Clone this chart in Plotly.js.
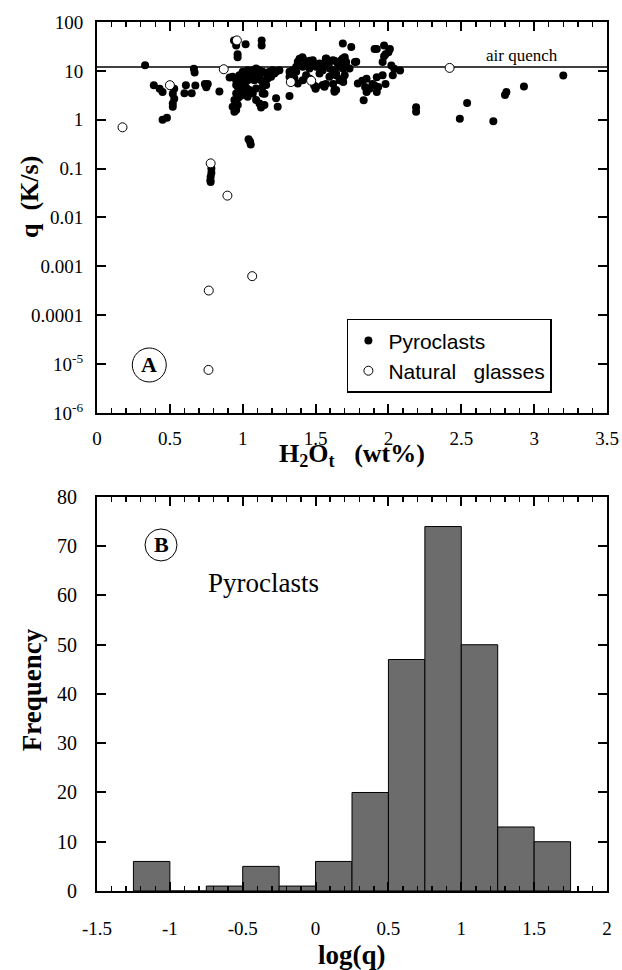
<!DOCTYPE html>
<html><head><meta charset="utf-8">
<script src="https://cdn.plot.ly/plotly-3.0.1.min.js"></script>
<style>html,body{margin:0;padding:0;background:#fff}</style>
</head><body><div id="chart" style="width:622px;height:970px"></div>
<script>
// ---- Panel A data: H2Ot (wt%) vs cooling rate q (K/s) ----
const pyroX = [
 0.33,0.39,0.43,0.45,0.53,0.52,0.53,0.52,0.52,0.45,0.48,0.61,0.60,0.65,0.675,0.665,0.67,0.74,0.76,0.75,0.84,0.91,
 0.94,0.955,0.965,0.965,1.02,1.13,1.13,1.04,1.05,1.055,0.785,0.785,0.78,0.778,0.78,
 0.955,0.977,1.0,1.023,1.046,1.069,1.092,1.115,1.137,1.161,1.183,1.206,1.229,1.252,
 0.966,0.989,1.012,1.034,1.058,1.08,1.103,1.126,1.149,1.172,1.195,
 0.955,0.977,1.0,1.023,1.046,1.092,1.137,1.161,
 0.943,0.966,0.977,1.012,1.034,1.069,1.137,
 0.931,0.955,0.943,0.966,1.092,1.115,1.126,1.149,1.229,1.24,1.321,
 0.989,1.012,1.069,1.115,1.034,1.092,1.183,1.217,0.955,1.0,0.931,1.15,1.01,
 1.321,1.343,1.367,1.378,1.412,1.435,1.458,1.481,1.527,1.573,1.595,1.618,1.652,1.676,1.687,1.699,1.71,1.733,
 1.321,1.355,1.378,1.412,1.435,1.458,1.504,1.549,1.595,1.618,1.641,1.664,1.687,1.641,1.561,1.63,
 1.687,1.745,1.779,1.79,1.412,1.458,1.504,1.549,1.527,1.367,1.573,1.664,
 1.70,1.71,1.69,1.70,1.68,1.69,1.77,1.53,1.57,1.60,1.63,1.64,1.62,1.57,1.63,1.34,1.39,1.41,1.46,1.49,1.50,
 1.92,1.905,1.97,2.01,1.98,1.97,2.0,1.96,2.02,2.04,2.08,2.03,1.96,
 1.82,1.85,1.84,1.87,1.85,1.89,1.92,1.905,1.93,1.92,1.98,1.83,
 2.19,2.19,2.54,2.49,2.72,2.80,2.81,2.93,3.20
];
const pyroQ = [
 13,5.1,4.3,3.7,4.3,3.4,2.7,2.15,1.85,1.0,1.1,5.1,3.5,3.5,5.0,11.0,9.3,5.4,5.4,4.6,3.8,7.3,
 42,33,22,19,35,42,33,0.40,0.36,0.31,0.10,0.082,0.068,0.058,0.053,
 6.46,8.17,9.55,8.85,9.55,10.3,11.2,10.3,9.55,8.85,9.55,10.3,9.55,10.3,
 4.71,5.53,5.97,6.46,7.0,6.46,7.0,6.46,5.97,7.0,7.55,
 3.46,4.04,4.37,4.58,4.04,4.37,4.71,5.11,
 2.52,2.74,2.95,3.19,2.95,3.46,3.46,
 1.84,1.58,1.46,2.0,2.52,2.16,1.79,2.0,2.74,1.84,3.05,
 7.55,8.17,8.17,8.17,10.3,8.85,8.17,8.85,5.11,5.53,7.55,3.4,5.0,
 9.55,10.3,12.1,15.3,17.9,15.3,14.2,16.5,14.2,17.9,15.3,16.5,14.2,16.5,17.9,14.2,12.1,11.2,
 7.55,7.0,5.53,6.46,8.17,7.0,4.71,5.11,7.55,10.3,8.85,6.46,7.0,4.04,4.71,3.73,
 36.2,30.9,15.3,5.53,12.1,11.2,12.1,10.3,8.85,9.55,13.1,12.1,
 19,15.1,11,8.1,6.3,5.9,15.1,13.8,17.6,11,16.2,8.1,5.4,5.4,4.0,6.3,17.6,19,16.2,5.0,4.3,
 28,28,33,28,22,20,24,15.1,12.9,11,10.2,8.1,8.1,
 6.3,6.9,4.7,4.3,3.7,5.4,7.4,5.0,4.7,3.7,5.4,2.5,
 1.8,1.45,2.2,1.05,0.93,3.2,3.7,4.8,8.0
];
const glassX = [0.175,0.50,0.87,0.96,0.78,0.895,1.065,0.767,0.765,2.42,1.33,1.47];
const glassQ = [0.70,5.1,10.8,42,0.128,0.028,0.00063,0.00032,7.6e-6,11.5,5.9,6.3];
const airQuench = 12;
const airQuenchX = [0, 3.5];
const qTickVals = [1e-6,1e-5,1e-4,1e-3,0.01,0.1,1,10,100];
const qTickText = ['10<sup>-6</sup>','10<sup>-5</sup>','0.0001','0.001','0.01','0.1','1','10','100'];

// ---- Panel B data: histogram of log(q) for pyroclasts ----
const binLeft = [-1.25,-1.0,-0.75,-0.5,-0.25,0.0,0.25,0.5,0.75,1.0,1.25,1.5];
const binWidth = 0.25;
const binCounts = [6,0,1,5,1,6,20,47,74,50,13,10];
const logTickVals = [-1.5,-1,-0.5,0,0.5,1,1.5,2];
const logTickText = ['-1.5','-1','-0.5','0','0.5','1','1.5','2'];

const serif = 'Liberation Serif, Times New Roman, serif';
const sans = 'Liberation Sans, Arial, sans-serif';

const traces = [
  {type:'scatter', mode:'lines', x:airQuenchX, y:[airQuench, airQuench], xaxis:'x', yaxis:'y',
   line:{color:'black', width:1.5}, showlegend:false, hoverinfo:'skip'},
  {type:'scatter', mode:'markers', name:'Pyroclasts', x:pyroX, y:pyroQ, xaxis:'x', yaxis:'y',
   marker:{symbol:'circle', size:8, color:'black'}},
  {type:'scatter', mode:'markers', name:'Natural\u00a0\u00a0\u00a0glasses', x:glassX, y:glassQ, xaxis:'x', yaxis:'y',
   marker:{symbol:'circle', size:9, color:'white', line:{color:'black', width:1}}},
  {type:'bar', x:binLeft, y:binCounts, width:binWidth, offset:0, xaxis:'x2', yaxis:'y2', showlegend:false,
   marker:{color:'#6c6c6c', line:{color:'black', width:1}}}
];

const axisCommon = {showline:true, linecolor:'black', linewidth:2, mirror:'ticks', ticks:'inside',
  tickcolor:'black', tickwidth:2, ticklen:9, showgrid:false, zeroline:false,
  tickfont:{family:serif, size:19, color:'black'}};
const minorX = {dtick:0.1, ticks:'inside', ticklen:5, tickcolor:'black', tickwidth:1.5};

function note(x, y, text, size, extra) {
  return Object.assign({xref:'paper', yref:'paper', x:x, y:y, text:text, showarrow:false,
    xanchor:'center', yanchor:'middle', font:{family:serif, size:size, color:'black'}}, extra || {});
}

const layout = {
  width:622, height:970, margin:{l:97, r:15, t:22, b:79},
  paper_bgcolor:'white', plot_bgcolor:'white', bargap:0,
  xaxis: Object.assign({}, axisCommon, {domain:[0,1], anchor:'y', range:[0,3.5], tick0:0, dtick:0.5,
    minor:minorX, ticklabelstandoff:7}),
  yaxis: Object.assign({}, axisCommon, {domain:[0.5501,1], anchor:'x', type:'log', range:[-6,2],
    tickvals:qTickVals, ticktext:qTickText, ticklabelstandoff:8}),
  xaxis2: Object.assign({}, axisCommon, {domain:[0,1], anchor:'y2', range:[-1.5,2],
    tickvals:logTickVals, ticktext:logTickText, minor:minorX, ticklabelstandoff:19}),
  yaxis2: Object.assign({}, axisCommon, {domain:[0,0.4534], anchor:'x2', range:[0,80], dtick:10,
    ticklabelstandoff:14, tickfont:{family:serif, size:20, color:'black'}}),
  showlegend:true,
  legend:{x:0.49, y:0.6585, xanchor:'left', yanchor:'top', bgcolor:'white', bordercolor:'black', borderwidth:1.5,
    font:{family:sans, size:21, color:'black'}, tracegroupgap:0, itemwidth:30},
  annotations:[
    {xref:'x', yref:'y', x:2.92, y:1.32, text:'air quench', showarrow:false, xanchor:'center', yanchor:'middle',
     font:{family:serif, size:17, color:'black'}},
    note(0.1025, 0.6053, '<b>A</b>', 22),
    note(0.1255, 0.3982, '<b>B</b>', 22),
    note(0.327, 0.3544, 'Pyroclasts', 27),
    note(-0.1333, 0.7986, '<b>q\u00a0\u00a0(K/s)</b>', 26, {textangle:-90}),
    note(0.5, 0.5017, '<b>H<sub>2</sub>O<sub>t</sub>\u00a0\u00a0\u00a0(wt%)</b>', 26),
    note(-0.127, 0.2313, '<b>Frequency</b>', 27, {textangle:-90}),
    note(0.5, -0.0736, '<b>log(q)</b>', 27)
  ],
  shapes:[
    {type:'circle', xref:'paper', yref:'paper', xsizemode:'pixel', ysizemode:'pixel',
     xanchor:0.1025, yanchor:0.6053, x0:-17, x1:17, y0:-17, y1:17, line:{color:'black', width:1}},
    {type:'circle', xref:'paper', yref:'paper', xsizemode:'pixel', ysizemode:'pixel',
     xanchor:0.1255, yanchor:0.3982, x0:-16, x1:16, y0:-16, y1:16, line:{color:'black', width:1}}
  ]
};

Plotly.newPlot('chart', traces, layout, {displayModeBar:false, staticPlot:true});
</script></body></html>
